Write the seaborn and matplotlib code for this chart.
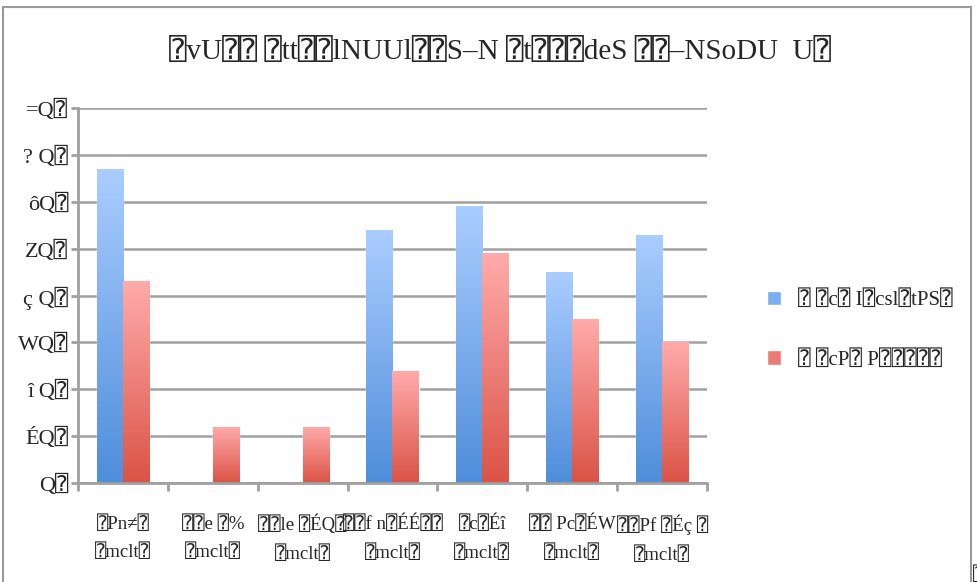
import numpy as np
import pandas as pd
import matplotlib
matplotlib.use("Agg")
import matplotlib.pyplot as plt
from matplotlib.patches import Rectangle
import seaborn as sns

# ------------------------------------------------------------
# data (texte tel qu'affiché dans l'image, glyphes manquants = ⍰)
# ------------------------------------------------------------
categories = [
    "⍰Pn≠⍰\n⍰mclt⍰",
    "⍰⍰e ⍰%\n⍰mclt⍰",
    "⍰⍰le ⍰ÉQ⍰\n⍰mclt⍰",
    "⍰⍰f n⍰ÉÉ⍰⍰\n⍰mclt⍰",
    "⍰c⍰Éî\n⍰mclt⍰",
    "⍰⍰ Pc⍰ÉW\n⍰mclt⍰",
    "⍰⍰Pf ⍰Éç ⍰\n⍰mclt⍰",
]
series_names = ["⍰ ⍰c⍰ I⍰csl⍰tPS⍰", "⍰ ⍰cP⍰ P⍰⍰⍰⍰⍰"]
blue_values = [67, 0, 0, 54, 59, 45, 53]
red_values = [43, 12, 12, 24, 49, 35, 30]
y_tick_values = [0, 10, 20, 30, 40, 50, 60, 70, 80]
y_tick_labels = ["Q⍰", "ÉQ⍰", "î Q⍰", "WQ⍰", "ç Q⍰", "ZQ⍰", "ôQ⍰", "? Q⍰", "=Q⍰"]
title = "⍰vU⍰⍰ ⍰tt⍰⍰lNUUl⍰⍰S–N ⍰t⍰⍰⍰deS ⍰⍰–NSoDU  U⍰"

df = pd.DataFrame({
    "cat": categories * 2,
    "serie": [series_names[0]] * 7 + [series_names[1]] * 7,
    "val": blue_values + red_values,
})

sns.set_style("white")
plt.rcParams["font.family"] = ["Liberation Serif", "DejaVu Sans", "DejaVu Sans Mono"]

GRAY = "#a0a0a0"
grad = {
    series_names[0]: ("#aacdff", "#4f8edb"),
    series_names[1]: ("#ffabab", "#db5346"),
}

fig = plt.figure(figsize=(9.78, 5.82), dpi=100)
ax = fig.add_axes([78 / 978, 99 / 582, 629 / 978, 375 / 582])

sns.barplot(data=df, x="cat", y="val", hue="serie", hue_order=series_names,
            palette=["#7aafef", "#f08080"], width=0.58, ax=ax, legend=False)

# dégradés verticaux dans les barres
for cont, name in zip(ax.containers, series_names):
    top, bottom = (np.array(matplotlib.colors.to_rgb(c)) for c in grad[name])
    t = np.linspace(0, 1, 100)[:, None]
    img = (top * (1 - t) + bottom * t)[:, None, :]
    for bar in cont:
        h = bar.get_height()
        if h <= 0:
            continue
        x0 = bar.get_x()
        w = bar.get_width()
        im = ax.imshow(img, extent=[x0, x0 + w, 0, h], aspect="auto",
                       origin="upper", zorder=bar.get_zorder() + 0.1)
        im.set_clip_path(bar)
ax.set_ylim(0, 80)
ax.set_xlim(-0.5, 6.5)

# axes, grille, ticks
ax.set_xlabel("")
ax.set_ylabel("")
ax.set_yticks(y_tick_values)
ax.set_yticklabels(y_tick_labels, fontsize=16)
ax.set_xticks(range(7))
ax.set_xticklabels(categories, fontsize=13.5, linespacing=1.8)
ax.set_xticks(np.arange(-0.5, 7, 1), minor=True)
ax.tick_params(which="both", bottom=True, left=True, direction="out")
ax.tick_params(axis="x", which="major", length=0, pad=23)
ax.tick_params(axis="x", which="minor", length=6, width=2, color=GRAY)
ax.tick_params(axis="y", length=5, width=2, color=GRAY, pad=2)
ax.yaxis.grid(True, color=GRAY, linewidth=1.8)
ax.set_axisbelow(True)
for side in ["top", "right"]:
    ax.spines[side].set_visible(False)
for side in ["left", "bottom"]:
    ax.spines[side].set_color(GRAY)
    ax.spines[side].set_linewidth(2)

# légende
handles = [Rectangle((0, 0), 1, 1, facecolor=c) for c in ["#7aafef", "#ee7a74"]]
fig.legend(handles, series_names, loc="center left", bbox_to_anchor=(748 / 978, 252 / 582),
           frameon=False, fontsize=15, handlelength=0.7, handleheight=0.7,
           labelspacing=1.9, handletextpad=0.8)

fig.suptitle(title, x=500 / 978, y=1 - 52 / 582, va="center", fontsize=21)

# cadre extérieur
fig.patches.append(Rectangle((3 / 978, -0.1), 968 / 978, 1.1 - 7 / 582, transform=fig.transFigure,
                             fill=False, edgecolor="#999999", linewidth=1.5))
fig.text(973 / 978, 1 - 575 / 582, "⍰", fontsize=14, va="center", ha="left")

plt.savefig("out.png", dpi=100)
plt.close()
